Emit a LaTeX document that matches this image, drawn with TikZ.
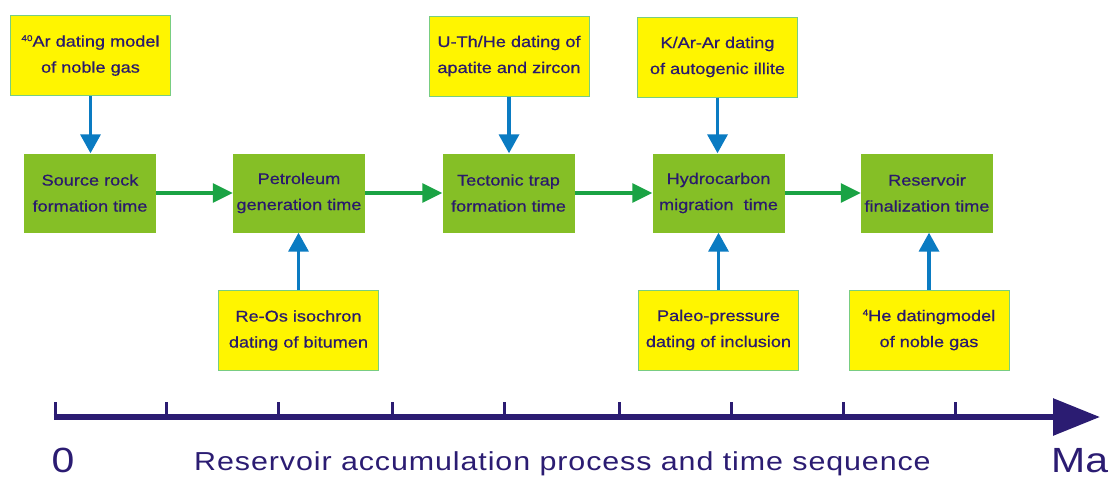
\documentclass[tikz,border=0pt]{standalone}
\usepackage{fontspec}
\setmainfont{Liberation Sans}[FakeStretch=1.17]
\newfontfamily\boxfont{Liberation Sans}[FakeStretch=1.17,FakeBold=0.6]
\newfontfamily\axisfont{Liberation Sans}[FakeStretch=1.17,LetterSpace=3.5]
\usetikzlibrary{arrows.meta}

\definecolor{ink}{RGB}{42,26,108}
\definecolor{axisblue}{RGB}{43,28,114}
\definecolor{boxyellow}{RGB}{255,245,0}
\definecolor{boxedge}{RGB}{120,205,130}
\definecolor{boxgreen}{RGB}{133,191,38}
\definecolor{flowgreen}{RGB}{26,163,68}
\definecolor{methodblue}{RGB}{10,123,194}

% small raised isotope mass number
\newcommand{\isotope}[1]{\raisebox{5.5pt}{\fontsize{8.5}{8.5}\selectfont #1}}

\begin{document}
\begin{tikzpicture}[x=1pt,y=-1pt,
  boxtext/.style={rectangle, inner sep=0pt, text=ink, align=center,
    font=\boxfont\fontsize{15.5}{26}\selectfont},
  ybox/.style={boxtext, fill=boxyellow, draw=boxedge, line width=1pt,
    minimum width=160pt, minimum height=80pt},
  gbox/.style={boxtext, fill=boxgreen, minimum width=132pt, minimum height=79pt},
  flow/.style={draw=flowgreen, line width=3.2pt,
    -{Triangle[length=20pt,width=19pt]}},
  method/.style={draw=methodblue, line width=3.5pt,
    -{Triangle[length=19pt,width=20pt]}},
  timeaxis/.style={draw=axisblue, line width=6pt,
    -{Triangle[length=47pt,width=36pt]}},
  tick/.style={draw=axisblue, line width=3pt},
  axislabel/.style={text=axisblue, inner sep=0pt}]

\useasboundingbox (0,0) rectangle (1109,477);

% process stages
\node[gbox] (g1) at (90,193)  {Source rock\\formation time};
\node[gbox] (g2) at (299,193) {Petroleum\\generation time};
\node[gbox] (g3) at (508.5,193) {Tectonic trap\\formation time};
\node[gbox] (g4) at (718.5,193) {Hydrocarbon\\migration\ \ time};
\node[gbox] (g5) at (927,193) {Reservoir\\finalization time};

% dating methods above
\node[ybox] (y1) at (90.5,55.5) {\isotope{40}Ar dating model\\of noble gas};
\node[ybox] (y2) at (509,56)    {U-Th/He dating of\\apatite and zircon};
\node[ybox] (y3) at (717.5,57)  {K/Ar-Ar dating\\of autogenic illite};

% dating methods below
\node[ybox] (b1) at (298.5,330.5) {Re-Os isochron\\dating of bitumen};
\node[ybox] (b2) at (718.5,330)   {Paleo-pressure\\dating of inclusion};
\node[ybox] (b3) at (929,330)     {\isotope{4}He datingmodel\\of noble gas};

% sequence of stages
\draw[flow] (g1.east) -- (g2.west);
\draw[flow] (g2.east) -- (g3.west);
\draw[flow] (g3.east) -- (g4.west);
\draw[flow] (g4.east) -- (g5.west);

% methods pointing at their stage
\draw[method] (y1.south) -- (y1.south |- g1.north);
\draw[method] (y2.south) -- (y2.south |- g3.north);
\draw[method] (y3.south) -- (y3.south |- g4.north);
\draw[method] (b1.north) -- (b1.north |- g2.south);
\draw[method] (b2.north) -- (b2.north |- g4.south);
\draw[method] (b3.north) -- (b3.north |- g5.south);

% time axis
\coordinate (ax0) at (53.5,417);
\coordinate (axEnd) at (1100,417);
\draw[timeaxis] (ax0) -- (axEnd);
\foreach \x in {55,166,278,392,504,619,731,843,955}
  \draw[tick] (\x,417) -- (\x,402);

\node[axislabel, anchor=base] (zero) at (63,472.5)
  {\fontsize{35}{35}\selectfont 0};
\node[axislabel, anchor=base west] (unit) at (1051,472.5)
  {\fontsize{35}{35}\selectfont Ma};
\node[axislabel, anchor=base] (caption) at (562.5,470)
  {\axisfont\fontsize{26}{26}\selectfont Reservoir accumulation process and time sequence};
\end{tikzpicture}
\end{document}
